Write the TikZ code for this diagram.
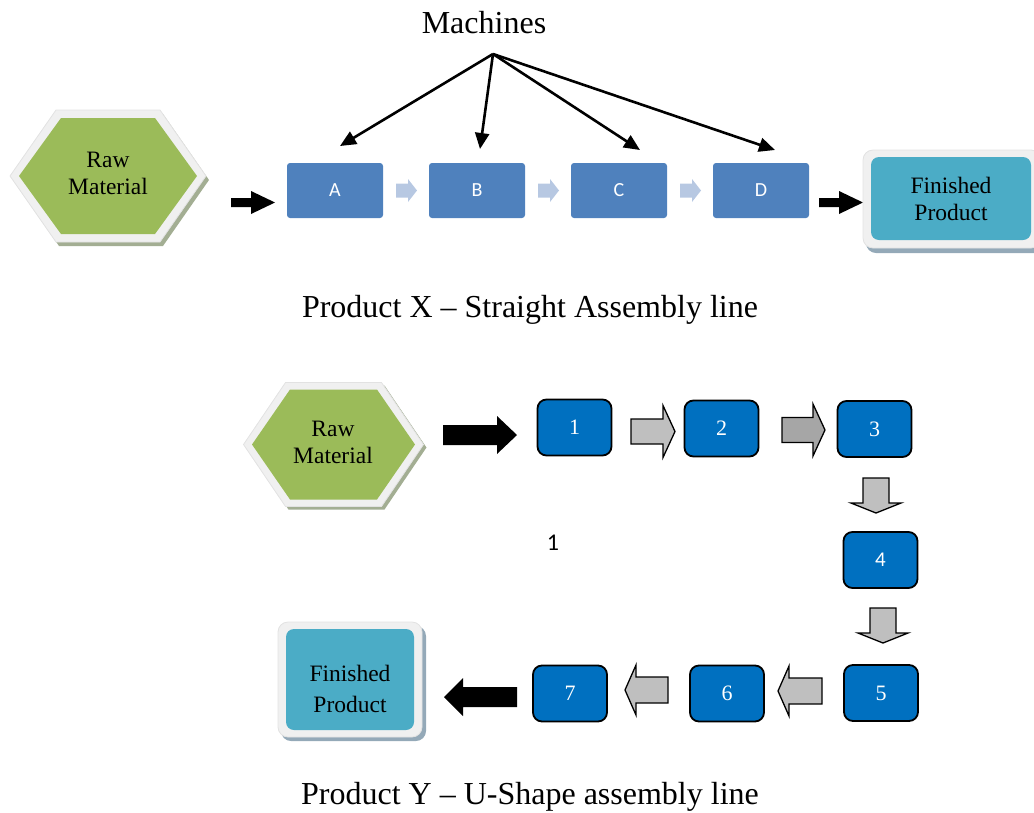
\documentclass[tikz,border=0pt]{standalone}
\usepackage{fontspec}
\setmainfont{Liberation Serif}
\newfontfamily\calibsans{Carlito}
\usetikzlibrary{arrows.meta,calc}

\definecolor{hexgreen}{HTML}{9BBB59}
\definecolor{framegray}{HTML}{F0F0F0}
\definecolor{frameedge}{HTML}{E2E2E2}
\definecolor{greenshadow}{HTML}{A3AE93}
\definecolor{tealfill}{HTML}{4BACC6}
\definecolor{tealshadow}{HTML}{94A9B8}
\definecolor{stepblue}{HTML}{4F81BD}
\definecolor{paleblue}{HTML}{B7C8E2}
\definecolor{cellblue}{HTML}{0070C0}
\definecolor{lightgrayarrow}{HTML}{BFBFBF}
\definecolor{midgrayarrow}{HTML}{A6A6A6}

% hexagon: centre x, centre y, half width, half top edge, half height
\newcommand\hexpath[5]{({(#1)-(#3)},#2) -- ({(#1)-(#4)},{(#2)-(#5)}) -- ({(#1)+(#4)},{(#2)-(#5)}) -- ({(#1)+(#3)},#2) -- ({(#1)+(#4)},{(#2)+(#5)}) -- ({(#1)-(#4)},{(#2)+(#5)}) -- cycle}

% block arrow: style, tail x, tail y, length, shaft half width, head half width, head length, rotation
\newcommand\blockarrow[8]{\path[#1,shift={(#2,#3)},rotate=#8] (0,{-(#5)}) -- ({(#4)-(#7)},{-(#5)}) -- ({(#4)-(#7)},{-(#6)}) -- (#4,0) -- ({(#4)-(#7)},#6) -- ({(#4)-(#7)},#5) -- (0,#5) -- cycle;}

\begin{document}
\begin{tikzpicture}[x=1pt,y=-1pt,
  bigtext/.style={font=\fontsize{32}{37}\selectfont, inner sep=0pt},
  labeltext/.style={font=\fontsize{23.5}{27}\selectfont, align=center, inner sep=0pt},
  machinebox/.style={fill=stepblue, rounded corners=3pt, minimum width=96pt, minimum height=55pt,
    inner sep=0pt, text=white, font=\calibsans\fontsize{20}{24}\selectfont},
  cellbox/.style={fill=cellblue, draw=black, line width=1.8pt, rounded corners=9pt,
    minimum width=74pt, minimum height=56pt, inner sep=0pt, text=white,
    font=\fontsize{22}{26}\selectfont},
  productbox/.style={fill=tealfill, rounded corners=8pt, inner sep=0pt, align=center,
    font=\fontsize{23.5}{27}\selectfont},
  pointer/.style={line width=2.6pt, -{Triangle[length=16pt,width=14pt]}},
  solidarrow/.style={fill=black},
  palearrow/.style={fill=paleblue},
  grayarrow/.style={fill=lightgrayarrow, draw=black, line width=1.3pt, line join=miter},
  darkgrayarrow/.style={fill=midgrayarrow, draw=black, line width=1.3pt, line join=miter},
  hexframe/.style={fill=framegray, draw=frameedge, line width=0.8pt},
]
\useasboundingbox (0,0) rectangle (1034,812);

%% ---------- Product X: straight line ----------
\node[bigtext, anchor=base] (machines) at (484,33) {Machines};
\coordinate (hub) at (493,54);
\coordinate (tipA) at (340,146);
\coordinate (tipB) at (480,149);
\coordinate (tipC) at (640,150);
\coordinate (tipD) at (775,150);

% raw material hexagon
\fill[greenshadow] \hexpath{111}{180}{98}{52}{66};
\path[hexframe] \hexpath{108}{176}{98}{52}{66};
\fill[hexgreen] \hexpath{108}{176}{89}{47}{58};
\node[labeltext] (raw1) at (108,173) {Raw\\Material};

% machines
\node[machinebox] (A) at (335,190.5) {A};
\node[machinebox] (B) at (477,190.5) {B};
\node[machinebox] (C) at (619,190.5) {C};
\node[machinebox] (D) at (761,190.5) {D};

\draw[pointer] (hub) -- (tipA);
\draw[pointer] (hub) -- (tipB);
\draw[pointer] (hub) -- (tipC);
\draw[pointer] (hub) -- (tipD);

\blockarrow{solidarrow}{231}{202.5}{44}{4.5}{11.5}{24}{0}
\blockarrow{palearrow}{396}{190.5}{21}{7}{11.5}{9}{0}
\blockarrow{palearrow}{538}{190.5}{21}{7}{11.5}{9}{0}
\blockarrow{palearrow}{680}{190.5}{21}{7}{11.5}{9}{0}
\blockarrow{solidarrow}{819}{202.5}{44}{4.5}{11.5}{24}{0}

% finished product
\fill[tealshadow, rounded corners=10pt] (866,154) rectangle (1044,253);
\path[hexframe, rounded corners=10pt] (863,150) rectangle (1041,248);
\node[productbox, minimum width=160pt, minimum height=83pt] (fp1) at (951,198.5) {Finished\\Product};

\node[bigtext, anchor=base] (captionX) at (530,317) {Product X -- Straight Assembly line};

%% ---------- Product Y: U-shape line ----------
\fill[greenshadow] \hexpath{336.5}{447.5}{90}{48}{62};
\path[hexframe] \hexpath{333.5}{444.5}{90}{48}{62};
\fill[hexgreen] \hexpath{333.5}{444.5}{81.5}{43.5}{55};
\node[labeltext] (raw2) at (333,442) {Raw\\Material};

\node[cellbox] (s1) at (574.5,427.5) {1};
\node[cellbox] (s2) at (721.5,428.5) {2};
\node[cellbox] (s3) at (874.5,429) {3};
\node[cellbox, font=\calibsans\fontsize{21}{25}\selectfont] (s4) at (880.5,560) {4};
\node[cellbox] (s5) at (881,693) {5};
\node[cellbox] (s6) at (727,693.5) {6};
\node[cellbox] (s7) at (570,693.5) {7};

\blockarrow{solidarrow}{443}{435}{74}{10}{19}{20}{0}
\blockarrow{grayarrow}{631}{431.5}{44}{12.5}{26}{12}{0}
\blockarrow{darkgrayarrow}{782}{430}{43}{12.5}{26}{12}{0}
\blockarrow{grayarrow}{876}{478}{35}{13}{25}{10}{-90}
\blockarrow{grayarrow}{883}{608}{35}{13}{25}{10}{-90}
\blockarrow{grayarrow}{822}{691}{44}{13}{25}{11}{180}
\blockarrow{grayarrow}{668}{690}{43}{13}{25}{11}{180}
\blockarrow{solidarrow}{517}{697}{73}{10}{19}{19}{180}

\node[font=\calibsans\fontsize{24}{28}\selectfont, inner sep=0pt] (one) at (553,543) {1};

\fill[tealshadow, rounded corners=10pt] (281,626) rectangle (426,741);
\path[hexframe, rounded corners=10pt] (278,622) rectangle (422,737);
\node[productbox, minimum width=128pt, minimum height=101pt] (fp2) at (350,679.5) {};
\node[labeltext, font=\fontsize{23.5}{31}\selectfont] (fp2text) at (350,689) {Finished\\Product};

\node[bigtext, anchor=base] (captionY) at (530,804) {Product Y -- U-Shape assembly line};
\end{tikzpicture}
\end{document}
